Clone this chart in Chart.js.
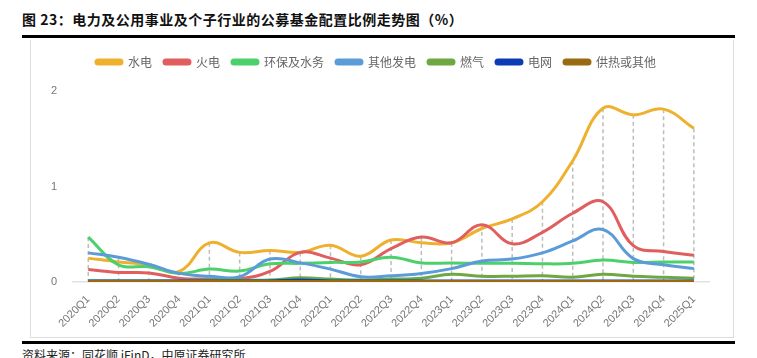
<!DOCTYPE html>
<html>
<head>
<meta charset="utf-8">
<script src="https://cdn.jsdelivr.net/npm/chart.js@4/dist/chart.umd.min.js"></script>
<style>
  body { margin: 0; width: 757px; height: 358px; background: #fff; position: relative; overflow: hidden;
         font-family: "Noto Sans CJK SC", "Noto Sans", sans-serif; }
  .title { position: absolute; left: 22px; top: 9px; font-size: 14px; font-weight: bold; color: #111; letter-spacing: 0.5px; }
  .rule { position: absolute; left: 22px; width: 713px; height: 3px; background: #000; }
  .box { position: absolute; left: 30px; top: 40px; width: 702px; height: 297px; border: 1px solid #ddd; border-top: none; }
  .source { position: absolute; left: 22px; top: 346px; font-size: 12px; color: #222; }
</style>
</head>
<body>
<div class="title">图 23：电力及公用事业及个子行业的公募基金配置比例走势图（%）</div>
<div class="rule" style="top:35px"></div>
<div class="box"><canvas id="chart" width="702" height="297"></canvas></div>
<div class="rule" style="top:341px"></div>
<div class="source">资料来源：同花顺 iFinD，中原证券研究所</div>
<script>
// ---------- 数据 ----------
const QUARTERS = ["2020Q1","2020Q2","2020Q3","2020Q4","2021Q1","2021Q2","2021Q3","2021Q4","2022Q1","2022Q2","2022Q3",
  "2022Q4","2023Q1","2023Q2","2023Q3","2023Q4","2024Q1","2024Q2","2024Q3","2024Q4","2025Q1"];
const HYDRO   = [0.25,0.21,0.18,0.11,0.41,0.31,0.33,0.31,0.385,0.27,0.44,0.41,0.41,0.56,0.66,0.84,1.27,1.82,1.75,1.81,1.61];
const THERMAL = [0.13,0.10,0.095,0.04,0.03,0.035,0.11,0.31,0.25,0.18,0.35,0.47,0.41,0.60,0.40,0.52,0.72,0.84,0.38,0.32,0.28];
const WATER   = [0.47,0.18,0.16,0.09,0.135,0.115,0.19,0.195,0.205,0.21,0.26,0.20,0.20,0.195,0.195,0.19,0.195,0.23,0.205,0.21,0.21];
const OTHERGEN= [0.305,0.26,0.185,0.09,0.06,0.055,0.24,0.20,0.135,0.055,0.065,0.09,0.14,0.22,0.24,0.305,0.43,0.55,0.245,0.18,0.14];
const GAS     = [0.01,0.01,0.01,0.01,0.02,0.02,0.02,0.045,0.03,0.02,0.03,0.04,0.08,0.06,0.06,0.065,0.05,0.08,0.06,0.05,0.04];
const GRID    = [0.01,0.01,0.01,0.01,0.01,0.01,0.01,0.02,0.01,0.01,0.01,0.01,0.01,0.01,0.01,0.01,0.01,0.01,0.01,0.01,0.01];
const HEAT    = [0.005,0.005,0.005,0.005,0.005,0.005,0.005,0.005,0.005,0.005,0.005,0.005,0.005,0.005,0.005,0.005,0.005,0.005,0.005,0.005,0.005];

const SERIES = [
  { label: "水电", data: HYDRO, color: "#EFB02E" },
  { label: "火电", data: THERMAL, color: "#E05E5E" },
  { label: "环保及水务", data: WATER, color: "#4CD06C" },
  { label: "其他发电", data: OTHERGEN, color: "#5B9BD8" },
  { label: "燃气", data: GAS, color: "#6EA843" },
  { label: "电网", data: GRID, color: "#0C3CB4" },
  { label: "供热或其他", data: HEAT, color: "#9A6A12" }
];

// ---------- 图例下方留白 ----------
const legendGap = {
  id: "legendGap",
  beforeInit(chart) {
    const fit = chart.legend.fit;
    chart.legend.fit = function () {
      fit.bind(chart.legend)();
      this.height += 13;
    };
  }
};

// ---------- 垂直虚线 (每个季度最大值到0) ----------
const dropLines = {
  id: "dropLines",
  beforeDatasetsDraw(chart) {
    const { ctx, scales: { x, y } } = chart;
    ctx.save();
    ctx.strokeStyle = "#bdbdbd";
    ctx.lineWidth = 1.5;
    ctx.setLineDash([4, 3]);
    QUARTERS.forEach((q, i) => {
      const top = Math.max(...SERIES.map((s) => s.data[i]));
      const px = x.getPixelForValue(i);
      ctx.beginPath();
      ctx.moveTo(px, y.getPixelForValue(top));
      ctx.lineTo(px, y.getPixelForValue(0));
      ctx.stroke();
    });
    ctx.restore();
  }
};

new Chart(document.getElementById("chart"), {
  type: "line",
  data: {
    labels: QUARTERS,
    datasets: SERIES.map((s, i) => ({
      label: s.label,
      data: s.data,
      borderColor: s.color,
      backgroundColor: s.color,
      borderWidth: 3,
      tension: 0.4,
      pointRadius: 0,
      order: SERIES.length - i
    }))
  },
  options: {
    responsive: false,
    animation: false,
    layout: { padding: { left: 12, right: 24, top: 4, bottom: 4 } },
    plugins: {
      legend: {
        position: "top",
        labels: {
          boxWidth: 26,
          boxHeight: 4,
          useBorderRadius: true,
          borderRadius: 2,
          padding: 12,
          color: "#666",
          font: { family: "Noto Sans CJK SC", size: 12 },
          sort: (a, b) => a.datasetIndex - b.datasetIndex
        }
      },
      tooltip: { enabled: false }
    },
    scales: {
      x: {
        offset: true,
        grid: { display: false },
        border: { color: "#e3e3e3", width: 1.5 },
        ticks: { minRotation: 45, maxRotation: 45, color: "#777", font: { family: "Liberation Sans", size: 11 } }
      },
      y: {
        min: 0,
        max: 2,
        grid: { display: false },
        border: { display: false },
        ticks: { stepSize: 1, color: "#777", padding: 8, font: { family: "Liberation Sans", size: 11 } }
      }
    }
  },
  plugins: [legendGap, dropLines]
});
</script>
</body>
</html>
